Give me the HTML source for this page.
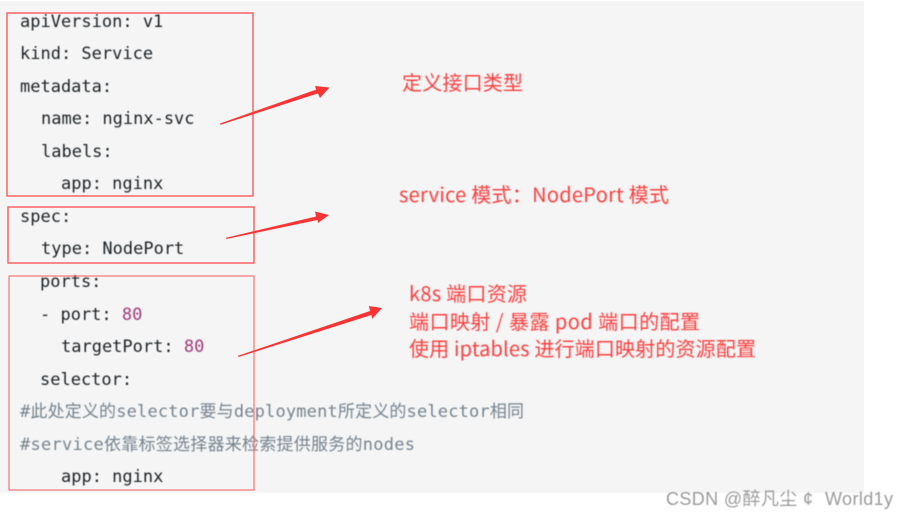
<!DOCTYPE html>
<html lang="zh">
<head>
<meta charset="utf-8">
<style>
html,body{margin:0;padding:0;background:#fff}
body{width:909px;height:518px;overflow:hidden}
svg{display:block}
.c{font-family:"DejaVu Sans Mono","Liberation Mono","WenQuanYi Zen Hei",monospace;font-size:17px;fill:#1d2226;white-space:pre}
.g{fill:#76838f}
.n{fill:#a03a78}
.r{font-family:"Noto Sans CJK SC","Liberation Sans",sans-serif;font-size:20px;fill:#fb3f3f}
.w{font-family:"Liberation Sans","Noto Sans CJK SC",sans-serif;font-size:18px;fill:#9a9a9a}
</style>
</head>
<body>
<svg width="909" height="518" viewBox="0 0 909 518" xmlns="http://www.w3.org/2000/svg">
<rect x="0" y="1" width="864" height="492" fill="#f5f5f5"/>
<g style="filter:blur(.4px)">
<text class="c" x="20" y="27">apiVersion: v1</text>
<text class="c" x="20" y="59">kind: Service</text>
<text class="c" x="20" y="92">metadata:</text>
<text class="c" x="41" y="124">name: nginx-svc</text>
<text class="c" x="41" y="157">labels:</text>
<text class="c" x="61" y="189">app: nginx</text>
<text class="c" x="20" y="222">spec:</text>
<text class="c" x="41" y="254">type: NodePort</text>
<text class="c" x="40" y="287">ports:</text>
<text class="c" x="40" y="320">- port: <tspan class="n">80</tspan></text>
<text class="c" x="61" y="352">targetPort: <tspan class="n">80</tspan></text>
<text class="c" x="40" y="385">selector:</text>
<text class="c g" x="20" y="417" textLength="504">#此处定义的selector要与deployment所定义的selector相同</text>
<text class="c g" x="20" y="450" textLength="395">#service依靠标签选择器来检索提供服务的nodes</text>
<text class="c" x="61" y="482">app: nginx</text>
<text class="r" x="402" y="90" textLength="121">定义接口类型</text>
<text class="r" x="399" y="202" textLength="270">service 模式：NodePort 模式</text>
<text class="r" x="409" y="301" textLength="118">k8s 端口资源</text>
<text class="r" x="409" y="329" textLength="291">端口映射 / 暴露 pod 端口的配置</text>
<text class="r" x="409" y="356" textLength="347">使用 iptables 进行端口映射的资源配置</text>
<text class="w" x="666" y="505" textLength="147">CSDN @醉凡尘 ¢</text>
<text class="w" x="825" y="505" textLength="68">World1y</text>
</g>
<g fill="none" stroke="#fb5a5a">
<rect x="7" y="13" width="246" height="183" stroke-width="1.4"/>
<rect x="8" y="207" width="246" height="56" stroke-width="1.4"/>
<rect x="9" y="276" width="245" height="214" stroke-width="1"/>
</g>
<g fill="#fb3535">
<polygon points="220,123.500 316.100,89.600 315,86 329.500,87.500 320,98 318,93.400 220.500,124.800"/>
<polygon points="226,237.800 316,216.500 315,211.500 329,215 318,223 317.500,220 226.300,239"/>
<polygon points="238,355.800 370,311 369,306 382,308 372,319 371.500,315 238.500,357"/>
</g>
</svg>
</body>
</html>
